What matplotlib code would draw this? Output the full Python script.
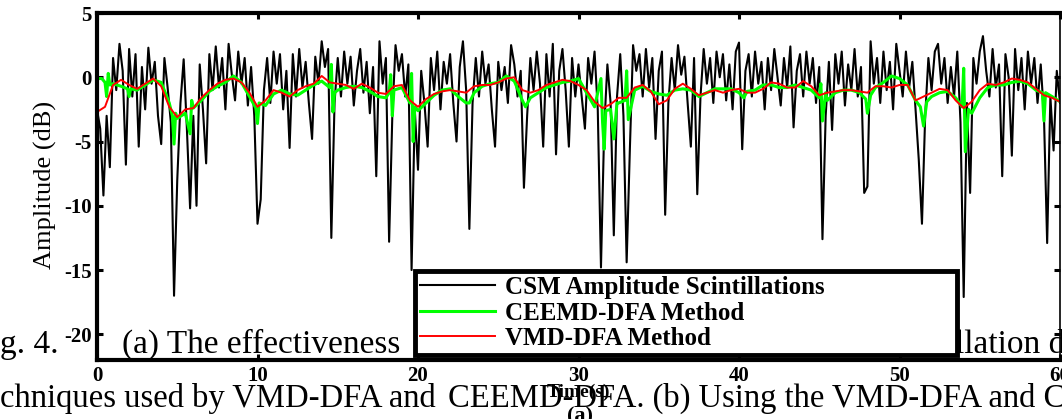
import numpy as np
import matplotlib
matplotlib.use("Agg")
import matplotlib.pyplot as plt

plt.rcParams['font.family'] = ['Liberation Serif', 'DejaVu Serif']
plt.rcParams['axes.unicode_minus'] = False

# CSM amplitude scintillations, one sample every 0.2 s (dB)
csm_dt = 0.2
csm_amp = [
    -2.5, -4.0, -9.2, -3.0, -7.0, 1.5, -1.0, 2.6, 0.5, -6.8,
    2.2, -1.5, 1.8, -5.4, 0.8, -2.5, 2.3, -0.5, 1.2, -3.0,
    -5.2, 1.5, -0.8, -3.5, -17.0, -8.0, -2.0, 1.4, -4.0, -10.2,
    -3.0, -10.0, 1.0, -2.5, -6.7, 1.8, -1.0, 2.4, -0.8, 1.5,
    -2.5, 2.6, 0.2, -1.8, 2.0, -0.5, 1.5, -2.2, 0.8, -3.0,
    -11.4, -9.5, -1.0, 1.5, -2.0, 2.0, -0.5, 1.8, -2.5, 0.5,
    -5.5, 1.8, -1.5, 2.2, -0.8, 1.2, -2.0, -4.8, 1.6, -0.5,
    2.8, 0.8, 2.2, -12.5, -2.0, 1.5, -1.5, 2.0, -0.5, 1.6,
    -2.2, 0.5, 2.2, -1.2, 1.2, -2.8, 0.8, -7.7, 2.8, -0.5,
    1.5, -12.8, -3.0, 2.5, 0.5, 1.8, -1.5, 1.0, -15.0, -2.5,
    -7.2, 0.5, -2.0, -5.4, 1.5, -1.0, 2.0, -2.5, 1.2, -0.5,
    1.8, -2.0, -5.0, 0.8, 2.8, -1.0, -11.8, -2.0, 1.5, -1.5,
    2.0, -0.5, 1.0, -2.5, -5.4, 1.2, -1.0, 0.8, -2.0, 2.5,
    1.0, -1.5, 0.5, -8.6, -3.0, 1.5, -1.0, 2.0, -0.5, -5.4,
    1.8, -1.5, 2.6, -6.0, 0.5, 2.2, -1.0, -5.4, 1.5, -1.5,
    1.0, -1.5, -4.0, 1.5, -0.5, 2.0, -2.5, -14.8, -4.0, 1.0,
    -2.0, -12.3, -1.5, 1.8, -3.0, -14.4, -5.6, 2.5, 0.5, 1.8,
    -1.5, 2.2, -0.8, 1.5, -4.8, 0.5, 2.0, -10.7, -2.0, 1.5,
    -1.0, 2.5, 0.2, 1.6, -2.0, -5.4, 1.5, -9.1, -1.5, 2.2,
    -0.5, 1.5, -2.0, 2.0, 0.0, 1.8, -1.8, 1.0, -2.5, 2.0,
    2.7, -5.6, 0.5, 1.8, -1.5, 2.0, -0.5, 1.2, -2.5, 1.5,
    -1.0, 2.2, 0.0, -2.2, 1.5, -0.8, 2.4, -3.9, 0.5, 1.8,
    -1.5, 2.0, -0.5, 1.5, -2.0, 0.8, -12.6, -3.0, 1.2, -4.1,
    1.8, -0.5, 2.0, -2.2, 1.0, -1.0, 2.2, -1.5, 0.8, -9.0,
    -8.5, 2.8, -0.5, 1.5, -2.0, 2.0, -1.0, 1.2, -2.5, 2.6,
    0.5, -1.5, 2.0, -0.8, 1.2, -2.5, -6.4, -11.4, -3.0, 1.5,
    -1.0, 2.0, 2.6, -0.5, 1.5, -2.0, 0.8, -1.5, 2.0, -3.5,
    -17.1, -2.0, -9.0, 1.5, -0.5, 2.0, 3.2, 0.5, -1.5, 2.2,
    -0.8, 1.0, -7.7, 1.8, 0.0, -6.1, 2.2, -1.0, 1.5, -2.5,
    2.0, -0.5, 1.5, -2.0, 1.0, -3.0, -12.9, -1.5, -5.7, 0.5,
    -2.0,
]

# VMD-DFA trend, one sample every 0.5 s (dB)
vmd_dt = 0.5
vmd_amp = [
    -2.7, -2.3, -0.6, -0.2, -0.6, -0.9, -0.5, -0.1, -0.7, -2.3,
    -3.1, -2.5, -2.4, -1.6, -1.0, -0.5, -0.2, -0.1, -0.4, -1.2,
    -2.3, -1.8, -1.0, -1.2, -1.5, -1.0, -0.7, -0.5, 0.1, -0.4,
    -0.5, -0.6, -0.9, -0.5, -0.8, -1.2, -1.3, -0.7, -0.6, -1.8,
    -2.3, -1.7, -1.3, -1.1, -1.0, -1.1, -1.2, -0.7, -0.6, -0.6,
    -0.4, -0.1, 0.0, -1.0, -1.2, -1.0, -0.6, -0.4, -0.2, -0.3,
    -0.6, -1.0, -1.9, -2.4, -2.1, -1.6, -1.6, -0.8, -0.6, -1.1,
    -2.1, -1.8, -0.9, -0.5, -0.9, -1.4, -1.2, -1.0, -1.2, -1.0,
    -0.9, -1.2, -1.2, -0.9, -0.4, -0.5, -0.8, -0.8, -0.3, -0.7,
    -1.4, -1.2, -1.1, -1.0, -1.0, -1.1, -1.2, -0.7, -0.7, -0.8,
    -0.6, -0.6, -1.8, -1.5, -1.2, -0.9, -1.0, -1.8, -2.4, -1.9,
    -1.0, -0.5, -0.6, -0.4, -0.1, -0.2, -0.4, -0.9, -1.4, -1.6,
    -1.9,
]

# CEEMD-DFA trend (irregular sampling around its spikes)
ceemd_t = [
    0.0, 0.3, 0.5, 0.6, 0.7, 0.8, 1.0, 1.5, 1.9, 2.0, 2.1, 2.5, 3.0, 3.5, 4.0,
    4.5, 4.7, 4.8, 4.9, 5.0, 5.5, 5.8, 5.9, 6.0, 6.5, 7.0, 7.5, 8.0, 8.5, 9.0,
    9.5, 9.9, 10.0, 10.1, 10.5, 11.0, 11.5, 12.0, 12.5, 13.0, 13.5, 14.0, 14.5,
    14.6, 14.7, 14.8, 15.0, 15.5, 16.0, 16.5, 17.0, 17.5, 18.0, 18.2, 18.3,
    18.4, 18.5, 19.0, 19.5, 19.6, 19.7, 19.8, 20.0, 20.5, 21.0, 21.5, 22.0,
    22.5, 23.0, 23.2, 23.5, 24.0, 24.5, 25.0, 25.5, 26.0, 26.5, 26.7, 27.0,
    27.5, 28.0, 28.5, 29.0, 29.5, 30.0, 30.5, 31.0, 31.4, 31.5, 31.6, 31.7,
    32.0, 32.2, 32.4, 32.5, 32.9, 33.0, 33.1, 33.5, 34.0, 34.5, 35.0, 35.5,
    36.0, 36.5, 37.0, 37.5, 38.0, 38.5, 39.0, 39.5, 40.0, 40.3, 40.5, 41.0,
    41.5, 42.0, 42.5, 43.0, 43.5, 44.0, 44.5, 45.0, 45.1, 45.2, 45.4, 45.5,
    46.0, 46.5, 47.0, 47.5, 47.9, 48.0, 48.2, 48.5, 49.0, 49.5, 50.0, 50.5,
    51.0, 51.3, 51.5, 51.7, 52.0, 52.5, 53.0, 53.5, 53.9, 54.0, 54.1, 54.3,
    54.5, 55.0, 55.5, 56.0, 56.5, 57.0, 57.5, 58.0, 58.5, 58.9, 59.0, 59.1,
    59.5, 60.0,
]
ceemd_amp = [
    -0.1, -0.1, -0.4, -1.5, 0.3, -0.6, -0.5, -0.7, -0.9, -1.5, -0.9, -1.0, -0.6, -0.2, -0.4,
    -2.0, -3.0, -5.2, -2.8, -3.2, -2.8, -4.4, -1.8, -2.4, -1.8, -1.1, -0.7, -0.4, 0.1, -0.4,
    -1.5, -2.4, -3.6, -2.0, -2.2, -1.3, -1.0, -1.3, -1.4, -1.0, -0.6, -0.3, -0.8,
    1.0, -2.7, -1.2, -1.0, -0.8, -0.7, -0.8, -1.1, -1.5, -1.6, -1.2, 0.2,
    -3.0, -1.0, -0.8, -2.0, 0.3, -5.0, -2.3, -2.6, -2.0, -1.4, -1.0, -0.9,
    -1.5, -2.0, -2.0, -1.2, -0.7, -0.5, -0.4, 0.1, -0.3, -1.8, -2.3, -1.6,
    -1.2, -0.8, -0.6, -0.4, -0.3, -0.1, -1.2, -2.3, -0.1, -3.5, -5.6, -2.6,
    -2.5, -4.8, -2.0, -2.0, -1.8, 0.5, -3.3, -1.0, -0.7, -1.1, -1.3, -1.4,
    -1.0, -0.9, -1.0, -1.5, -1.2, -0.9, -0.9, -0.9, -1.2, -1.6, -1.1, -1.0,
    -0.6, -0.6, -0.8, -0.8, -0.6, -0.8, -1.0, -1.6, -0.5, -3.4, -1.2, -1.8,
    -1.2, -1.0, -1.0, -1.2, -1.7, -2.8, -1.4, -0.8, -0.4, 0.1, -0.1, -0.6,
    -1.8, -2.3, -3.8, -1.9, -1.5, -1.2, -1.1, -1.6, -2.3, 0.7, -5.8, -2.5,
    -2.8, -1.6, -0.8, -0.6, -0.6, -0.4, -0.3, -0.5, -1.0, -1.2, -3.4, -1.2,
    -1.5, -1.9,
]

x_ticks = [0, 10, 20, 30, 40, 50, 60]
y_ticks = [-20, -15, -10, -5, 0, 5]
legend_labels = ["CSM Amplitude Scintillations", "CEEMD-DFA Method", "VMD-DFA Method"]

csm_t = np.arange(len(csm_amp)) * csm_dt
vmd_t = np.arange(len(vmd_amp)) * vmd_dt

W, H = 1062, 419
fig = plt.figure(figsize=(W / 100, H / 100), dpi=100)
ax = fig.add_axes([97 / W, 1 - 360 / H, (1060 - 97) / W, (360 - 13) / H])

ax.plot(csm_t, csm_amp, color="black", lw=1.5, label=legend_labels[0])
ax.plot(ceemd_t, ceemd_amp, color="#00ff00", lw=2.2, label=legend_labels[1])
ax.plot(vmd_t, vmd_amp, color="#ff0000", lw=1.4, label=legend_labels[2])

ax.set_xlim(0, 60)
ax.set_ylim(-22, 5)
ax.set_xticks(x_ticks)
ax.set_yticks(y_ticks)
ax.tick_params(direction="in", length=4, width=2.2, top=True, right=True,
               labelsize=15, pad=4)
for lab in ax.get_xticklabels() + ax.get_yticklabels():
    lab.set_fontweight("bold")
for side in ["left", "bottom", "top"]:
    ax.spines[side].set_linewidth(3)
ax.spines["right"].set_linewidth(1.2)

ax.set_xlabel("Time(s)", fontsize=14, fontweight="bold")
ax.xaxis.set_label_coords(0.5, -0.068)
fig.text(45 / W, 1 - 185 / H, "Amplitude (dB)", rotation=90, fontsize=19,
         ha="center", va="center")

# caption of the page that shows through behind the figure
cap = dict(fontsize=24, va="baseline", ha="left", zorder=3, clip_on=False,
           transform=fig.transFigure)
ax.text(0 / W, 1 - 353 / H, "g. 4.", **cap)
ax.text(122 / W, 1 - 353 / H, "(a) The effectiveness", **cap)
ax.text(955 / W, 1 - 353 / H, "llation d", **cap)
cap["fontsize"] = 23.5
ax.text(0 / W, 1 - 407 / H, "chniques used by VMD-DFA and", **cap)
ax.text(448 / W, 1 - 407 / H, "CEEMD-DFA. (b) Using the VMD-DFA and C", **cap)
ax.text(580 / W, 1 - 421 / H, "(a)", fontsize=16, fontweight="bold", ha="center",
        va="baseline", transform=fig.transFigure, clip_on=False)

leg = ax.legend(loc="lower left", bbox_to_anchor=(0.330, 0.014, 0.563, 0.251),
                mode="expand", borderaxespad=0, fancybox=False, framealpha=1,
                edgecolor="black", handlelength=3.0, handletextpad=0.4,
                labelspacing=0.1, borderpad=0.2,
                prop={"family": "Liberation Serif", "weight": "bold", "size": 18})
leg.get_frame().set_linewidth(3.5)
leg.set_zorder(5)

fig.savefig("out.png", dpi=100)
